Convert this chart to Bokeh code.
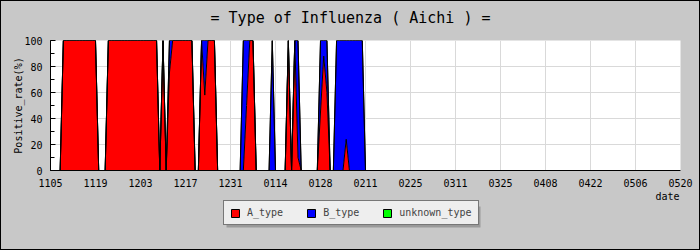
from bokeh.plotting import figure
from bokeh.layouts import column
from bokeh.models import (Range1d, FixedTicker, Legend, LegendItem, Label,
                          ColumnDataSource, BoxAnnotation)
from bokeh.embed import file_html
from bokeh.resources import INLINE
import numpy as np

title_text = "= Type of Influenza ( Aichi ) ="
y_label = "Positive_rate(%)"
x_label = "date"
tick_labels = ["1105", "1119", "1203", "1217", "1231", "0114", "0128", "0211",
               "0225", "0311", "0325", "0408", "0422", "0506", "0520"]
tick_step_days = 14
series_names = ["A_type", "B_type", "unknown_type"]
series_colors = ["#ff0000", "#0000ff", "#00ff00"]

# daily positive rate (%) from 1105 onward
A_type = [0, 0, 0, 0, 100, 100, 100, 100, 100, 100,
          100, 100, 100, 100, 100, 0, 0, 0, 100, 100,
          100, 100, 100, 100, 100, 100, 100, 100, 100, 100,
          100, 100, 100, 100, 0, 100, 0, 75, 100, 100,
          100, 100, 100, 100, 100, 0, 0, 100, 58, 100,
          100, 100, 0, 0, 0, 0, 0, 0, 0, 0,
          0, 50, 100, 100, 0, 0, 0, 0, 0, 0,
          0, 0, 0, 0, 100, 0, 100, 10, 0, 0,
          0, 0, 0, 0, 45, 88, 60, 0, 0, 0,
          0, 0, 24, 0, 0, 0, 0, 0, 0]
B_type = [0, 0, 0, 0, 0, 0, 0, 0, 0, 0,
          0, 0, 0, 0, 0, 0, 0, 0, 0, 0,
          0, 0, 0, 0, 0, 0, 0, 0, 0, 0,
          0, 0, 0, 0, 0, 0, 0, 25, 0, 0,
          0, 0, 0, 0, 0, 0, 0, 0, 42, 0,
          0, 0, 0, 0, 0, 0, 0, 0, 0, 0,
          100, 50, 0, 0, 0, 0, 0, 0, 0, 100,
          0, 0, 0, 0, 0, 0, 0, 90, 0, 0,
          0, 0, 0, 0, 55, 12, 40, 0, 0, 100,
          100, 100, 76, 100, 100, 100, 100, 100, 0]
unknown_type = [0, 0, 0, 0, 0, 0, 0, 0, 0, 0,
                0, 0, 0, 0, 0, 0, 0, 0, 0, 0,
                0, 0, 0, 0, 0, 0, 0, 0, 0, 0,
                0, 0, 0, 0, 0, 0, 0, 0, 0, 0,
                0, 0, 0, 0, 0, 0, 0, 0, 0, 0,
                0, 0, 0, 0, 0, 0, 0, 0, 0, 0,
                0, 0, 0, 0, 0, 0, 0, 0, 0, 0,
                0, 0, 0, 0, 0, 0, 0, 0, 0, 0,
                0, 0, 0, 0, 0, 0, 0, 0, 0, 0,
                0, 0, 0, 0, 0, 0, 0, 0, 0]

FONT = "DejaVu Sans Mono"
BG = "#c8c8c8"
EDGE = "1px solid black"

n_days = tick_step_days * (len(tick_labels) - 1)
x = list(range(len(A_type)))
a = np.array(A_type, dtype=float)
b = np.array(B_type, dtype=float)
u = np.array(unknown_type, dtype=float)
src = ColumnDataSource(dict(x=x, A=a, B=b, U=u, cA=a, cAB=a + b, cABU=a + b + u))


def strip(height):
    s = figure(width=698, height=height, output_backend="svg", toolbar_location=None,
               x_axis_type=None, y_axis_type=None, x_range=Range1d(0, 1),
               y_range=Range1d(0, 1), min_border_left=0, min_border_right=0,
               min_border_top=0, min_border_bottom=0)
    s.frame_align = False
    s.background_fill_color = BG
    s.border_fill_color = BG
    s.outline_line_color = None
    return s


# ---- title strip ----
t = strip(30)
t.add_layout(Label(x=349, y=14, x_units="screen", y_units="screen", text=title_text,
                   text_font=FONT, text_font_size="15px", text_align="center",
                   text_baseline="middle", text_color="black"))

# ---- main chart ----
p = figure(width=698, height=160, output_backend="svg", toolbar_location=None,
           x_range=Range1d(0, n_days), y_range=Range1d(0, 100),
           min_border_left=49, min_border_right=19, min_border_top=9,
           min_border_bottom=21)
p.frame_align = False
p.title.text = ""
p.background_fill_color = "white"
p.border_fill_color = BG
p.outline_line_color = None

p.varea_stack(["A", "B", "U"], x="x", color=series_colors, source=src)
for col in ["cA", "cAB", "cABU"]:
    p.line("x", col, source=src, line_color="black", line_width=1)

tick_pos = [i * tick_step_days for i in range(len(tick_labels))]
p.xaxis.ticker = FixedTicker(ticks=tick_pos, minor_ticks=[])
p.xaxis.major_label_overrides = {t_: lab for t_, lab in zip(tick_pos, tick_labels)}
p.xaxis.major_tick_in = 0
p.xaxis.major_tick_out = 0
p.xaxis.minor_tick_in = 0
p.xaxis.minor_tick_out = 0
p.xaxis.major_label_standoff = 8
p.yaxis.ticker = FixedTicker(ticks=[0, 20, 40, 60, 80, 100],
                             minor_ticks=[0, 10, 20, 30, 40, 50, 60, 70, 80, 90, 100])
p.yaxis.major_tick_in = 5
p.yaxis.major_tick_out = 0
p.yaxis.minor_tick_in = 4
p.yaxis.minor_tick_out = 0
p.yaxis.major_label_standoff = 8
p.yaxis.axis_label = y_label
p.yaxis.axis_label_standoff = -3
p.yaxis.axis_label_text_font_style = "normal"
for ax in [p.xaxis[0], p.yaxis[0]]:
    ax.axis_line_color = "black"
    ax.major_tick_line_color = "black"
    ax.minor_tick_line_color = "black"
    ax.major_label_text_font = FONT
    ax.major_label_text_font_size = "10px"
    ax.major_label_text_color = "black"
    ax.axis_label_text_font = FONT
    ax.axis_label_text_font_size = "10px"
    ax.axis_label_text_color = "black"

p.xgrid.grid_line_color = "#d9d9d9"
p.ygrid.grid_line_color = "#d9d9d9"
p.ygrid.ticker = FixedTicker(ticks=[20, 40, 60, 80])

# ---- footer strip: axis name + legend ----
f = strip(58)

f.add_layout(Label(x=678, y=53, x_units="screen", y_units="screen", text=x_label,
                   text_font=FONT, text_font_size="10px", text_align="right",
                   text_baseline="middle", text_color="black"))

f.add_layout(BoxAnnotation(left=225, right=479, bottom=22, top=43,
                           left_units="screen", right_units="screen",
                           bottom_units="screen", top_units="screen",
                           fill_color="#9a9a9a", fill_alpha=1, line_color=None))

# legend proxies (kept outside the visible range of the strip)
items = []
for name, colr in zip(series_names, series_colors):
    r = f.quad(left=[-3], right=[-2], top=[-2], bottom=[-3], fill_color=colr,
               line_color="black")
    items.append(LegendItem(label=name, renderers=[r]))
legend = Legend(items=items, orientation="horizontal", location=(222, 24),
                glyph_width=10, glyph_height=10, label_standoff=7, spacing=23,
                padding=6, label_height=10, margin=0,
                label_text_font=FONT, label_text_font_size="10px",
                border_line_color="black", border_line_width=1,
                background_fill_color="#eeeeee", background_fill_alpha=1)
f.add_layout(legend, "center")

root = column(t, p, f, spacing=0)
root.styles = {"border": EDGE, "background-color": BG, "gap": "0px"}

open("out.html", "w").write(file_html(root, INLINE))
